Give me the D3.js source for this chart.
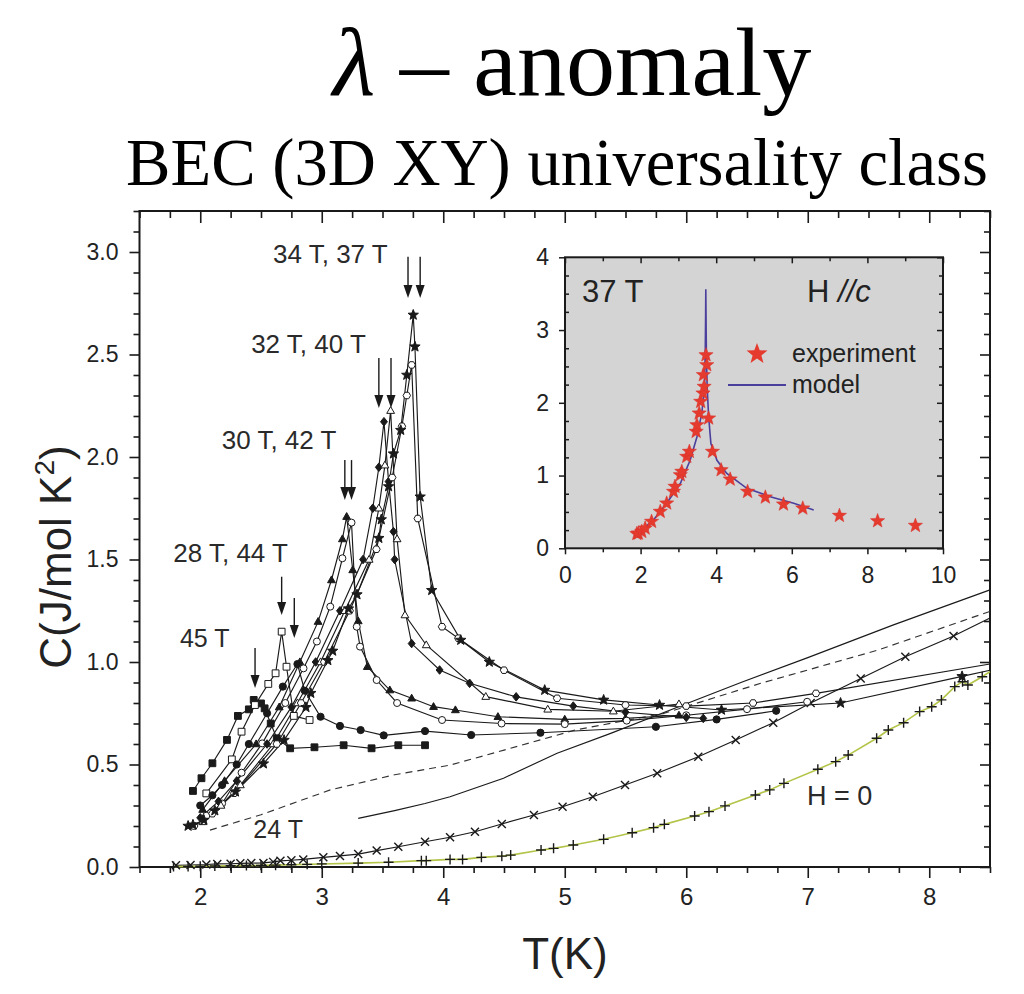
<!DOCTYPE html>
<html><head><meta charset="utf-8">
<script src="https://cdn.jsdelivr.net/npm/d3@7"></script>
<style>body{margin:0;background:#fff}svg{display:block}</style>
</head><body>
<svg id="c" width="1024" height="994"></svg>
<script>
// ---------------- DATA (T in K, C in J/mol K^2) ----------------
const h45 = [[1.94,0.371],[2.01,0.433],[2.10,0.506],[2.22,0.62],[2.31,0.737],[2.40,0.769],[2.44,0.815],[2.50,0.798],[2.53,0.774],[2.58,0.70],[2.63,0.628],[2.74,0.579],[2.94,0.584],[3.18,0.594],[3.41,0.579],[3.63,0.594],[3.85,0.594]];
const h44 = [[2.05,0.359],[2.26,0.525],[2.34,0.66],[2.45,0.79],[2.56,0.893],[2.62,0.945],[2.67,1.148],[2.71,0.977],[2.77,0.737],[2.90,0.717]];
const h28 = [[2.00,0.30],[2.10,0.35],[2.18,0.40],[2.30,0.50],[2.40,0.60],[2.55,0.75],[2.68,0.88],[2.80,0.99],[2.86,0.86],[2.99,0.733],[3.15,0.688],[3.32,0.668],[3.51,0.642],[3.85,0.663],[4.23,0.644],[4.80,0.655],[5.75,0.684],[6.25,0.72],[6.74,0.762]];
const h30 = [[2.02,0.28],[2.20,0.42],[2.46,0.60],[2.65,0.78],[2.82,1.00],[2.97,1.197],[3.08,1.40],[3.17,1.60],[3.205,1.709],[3.255,1.449],[3.30,1.20],[3.375,0.977],[3.56,0.863],[3.74,0.823],[3.92,0.782],[4.10,0.766],[4.45,0.733],[5.0,0.72],[5.5,0.725],[5.94,0.74]];
const h42 = [[2.05,0.25],[2.18,0.31],[2.34,0.46],[2.51,0.603],[2.70,0.80],[2.85,0.969],[2.96,1.10],[3.07,1.27],[3.17,1.506],[3.245,1.68],[3.288,1.172],[3.315,1.075],[3.452,0.912],[3.62,0.80],[3.99,0.717],[4.48,0.70],[5.0,0.697],[5.51,0.714],[6.0,0.74],[6.5,0.77],[6.995,0.806]];
const h32 = [[2.00,0.24],[2.15,0.32],[2.30,0.42],[2.55,0.60],[2.75,0.78],[2.95,1.00],[3.15,1.25],[3.34,1.50],[3.42,1.75],[3.47,1.95],[3.512,2.172],[3.55,1.88],[3.59,1.636],[3.60,1.50],[3.74,1.09],[3.97,0.961],[4.217,0.896],[4.6,0.83],[5.07,0.785],[5.5,0.755],[6.0,0.73],[6.14,0.725]];
const h40 = [[2.02,0.22],[2.17,0.30],[2.33,0.40],[2.60,0.60],[2.80,0.80],[2.99,1.00],[3.19,1.25],[3.39,1.50],[3.47,1.75],[3.52,1.96],[3.567,2.226],[3.62,1.60],[3.685,1.229],[3.86,1.083],[4.35,0.831],[4.86,0.769],[5.4,0.76],[5.94,0.795]];
const h34 = [[1.95,0.20],[2.10,0.26],[2.28,0.36],[2.63,0.60],[2.83,0.80],[3.02,1.00],[3.23,1.25],[3.45,1.55],[3.58,1.90],[3.66,2.15],[3.70,2.30],[3.74,2.449],[3.79,1.70],[3.99,1.172],[4.124,1.116],[4.50,0.96],[4.937,0.823],[5.5,0.79],[6.0,0.785],[6.55,0.80],[7.068,0.847]];
const h34Tail = [8.5,0.99];
const h37 = [[1.90,0.20],[1.94,0.206],[2.03,0.229],[2.12,0.275],[2.29,0.367],[2.52,0.504],[2.69,0.619],[2.87,0.779],[2.91,0.848],[3.05,1.008],[3.09,1.054],[3.22,1.26],[3.29,1.329],[3.47,1.604],[3.49,1.695],[3.55,1.856],[3.59,2.016],[3.65,2.131],[3.70,2.40],[3.753,2.693],[3.767,2.538],[3.81,1.806],[3.905,1.35],[4.144,1.107],[4.379,1.0],[4.835,0.863],[5.32,0.815],[5.78,0.79],[6.29,0.766],[7.27,0.80],[8.27,0.93]];
const h37Tail = [8.5,0.96];
const h24 = [[2.08,0.18],[2.5,0.255],[3.07,0.376],[3.6,0.45],[4.056,0.497],[4.5,0.57],[5.084,0.668],[5.82,0.75],[6.613,0.896],[7.583,1.059],[8.5,1.247]];
const hLine = [[3.30,0.237],[3.6,0.275],[3.85,0.31],[4.056,0.343],[4.496,0.433],[4.937,0.555],[5.378,0.652],[5.937,0.782],[6.45,0.90],[6.995,1.02],[7.7,1.18],[8.5,1.352]];
const hX = [[1.80,0.008],[1.92,0.01],[2.05,0.012],[2.14,0.015],[2.25,0.016],[2.33,0.018],[2.42,0.019],[2.52,0.02],[2.60,0.025],[2.66,0.03],[2.75,0.033],[2.848,0.037],[3.013,0.047],[3.15,0.054],[3.30,0.063],[3.452,0.08],[3.63,0.099],[3.85,0.123],[4.056,0.145],[4.261,0.172],[4.482,0.21],[4.746,0.254],[4.982,0.294],[5.231,0.343],[5.496,0.40],[5.761,0.457],[6.099,0.538],[6.407,0.62],[6.716,0.704],[7.024,0.80],[7.436,0.92],[7.803,1.026],[8.2,1.127]];
const hXTail = [8.5,1.215];
const h0 = [[1.78,0.002],[1.90,0.003],[2.0,0.004],[2.12,0.005],[2.25,0.006],[2.38,0.007],[2.50,0.008],[2.62,0.009],[2.75,0.011],[2.88,0.013],[3.0,0.015],[3.30,0.019],[3.55,0.023],[3.82,0.031],[3.86,0.031],[4.056,0.037],[4.159,0.037],[4.314,0.047],[4.482,0.053],[4.555,0.058],[4.805,0.083],[4.908,0.091],[5.07,0.107],[5.32,0.135],[5.555,0.167],[5.731,0.192],[5.82,0.208],[6.069,0.249],[6.187,0.27],[6.319,0.298],[6.569,0.351],[6.687,0.376],[6.804,0.408],[7.083,0.477],[7.23,0.514],[7.333,0.546],[7.567,0.628],[7.663,0.668],[7.789,0.704],[7.921,0.758],[8.02,0.782],[8.10,0.815],[8.21,0.88],[8.274,0.904],[8.318,0.888],[8.436,0.928]];
const h0Tail = [8.5,0.953];

// arrows marking the transitions
const arrowT   = [3.71, 3.81, 3.47, 3.57, 3.19, 3.245, 2.67, 2.774, 2.451];
const arrowTop = [2.977,2.977,2.483,2.483,1.985,1.985,1.416,1.312,1.068];
const arrowTip = [2.776,2.776,2.239,2.239,1.79, 1.79, 1.229,1.117,0.873];

// annotation texts
const fieldLabels = ["34 T, 37 T","32 T, 40 T","30 T, 42 T","28 T, 44 T","45 T","24 T","H = 0"];

// axis ticks
const xMajor = [2,3,4,5,6,7,8];
const xTickLabels = ["2","3","4","5","6","7","8"];
const yMajor = [0,0.5,1,1.5,2,2.5,3];
const yTickLabels = ["0.0","0.5","1.0","1.5","2.0","2.5","3.0"];

// inset: 37 T, H // c
const insetStarT = [1.90,1.94,2.03,2.12,2.29,2.52,2.69,2.87,2.91,3.05,3.09,3.22,3.29,3.47,3.49,3.55,3.59,3.65,3.68,3.66,3.75,3.73,3.80,3.90,4.13,4.37,4.83,5.30,5.78,6.29,7.26,8.27,9.27];
const insetStarC = [0.20,0.206,0.229,0.275,0.367,0.504,0.619,0.779,0.848,1.008,1.054,1.26,1.329,1.604,1.695,1.856,2.016,2.131,2.222,2.383,2.52,2.657,1.787,1.329,1.077,0.948,0.779,0.701,0.605,0.55,0.449,0.376,0.312];
const modelT = [1.97,2.1,2.34,2.69,3.05,3.31,3.49,3.62,3.69,3.71,3.72,3.725,3.74,3.76,3.80,3.86,4.02,4.28,4.81,5.43,6.05,6.58];
const modelC = [0.22,0.28,0.39,0.62,0.89,1.21,1.53,1.86,2.22,2.7,3.2,3.56,2.7,2.22,1.81,1.44,1.21,1.03,0.825,0.71,0.62,0.527];
const insetXTicks = [0,2,4,6,8,10];
const insetYTicks = [0,1,2,3,4];

// ---------------- DRAWING ----------------
const svg = d3.select('#c');
const SANS = '"Liberation Sans", Arial, Helvetica, sans-serif';
const SERIF = '"Liberation Serif", "Times New Roman", serif';
const INK = '#1a1a1a';

const x = d3.scaleLinear().domain([1.5, 8.5]).range([139.5, 990]);
const y = d3.scaleLinear().domain([0, 3.2]).range([867, 211]);

// titles
function fitText(t, target, base){
  const w = t.node().getBBox().width;
  t.style('font-size', (base * target / w).toFixed(2) + 'px');
}
const t1 = svg.append('text').attr('x', 572).attr('y', 95).attr('text-anchor','middle')
  .style('font-family', SERIF).style('font-size','88px').attr('fill','#000');
t1.append('tspan').style('font-style','italic').text('λ');
t1.append('tspan').text(' – anomaly');
fitText(t1, 482, 88);
const t2 = svg.append('text').attr('x', 557).attr('y', 185).attr('text-anchor','middle')
  .style('font-family', SERIF).style('font-size','66px').attr('fill','#000')
  .text('BEC (3D XY) universality class');
fitText(t2, 862, 66);

// axes
function styleAxis(g, fs){
  g.select('.domain').remove();
  g.attr('font-family', null).attr('font-size', null);
  g.selectAll('line').attr('stroke', INK).attr('stroke-width', 1.6);
  g.selectAll('text').attr('fill', '#222').style('font-family', SANS).style('font-size', fs + 'px');
}
const xMinor = d3.range(1.5, 8.501, 0.25).filter(v => !xMajor.includes(v));
const yMinor = d3.range(0, 3.2001, 0.1).map(v => +v.toFixed(2)).filter(v => !yMajor.includes(v));

const gxb1 = svg.append('g').attr('transform', `translate(0,${y(0)})`)
  .call(d3.axisBottom(x).tickValues(xMinor).tickSize(6).tickFormat(''));
styleAxis(gxb1, 24);
const gxb2 = svg.append('g').attr('transform', `translate(0,${y(0)})`)
  .call(d3.axisBottom(x).tickValues(xMajor).tickSize(11).tickPadding(10)
    .tickFormat((d,i) => xTickLabels[i]));
styleAxis(gxb2, 24);
const gxt1 = svg.append('g').attr('transform', `translate(0,${y(3.2)})`)
  .call(d3.axisTop(x).tickValues(xMinor).tickSize(-7).tickFormat(''));
styleAxis(gxt1, 24);
const gxt2 = svg.append('g').attr('transform', `translate(0,${y(3.2)})`)
  .call(d3.axisTop(x).tickValues(xMajor).tickSize(-12).tickFormat(''));
styleAxis(gxt2, 24);
const gyl1 = svg.append('g').attr('transform', `translate(${x(1.5)},0)`)
  .call(d3.axisLeft(y).tickValues(yMinor).tickSize(6).tickFormat(''));
styleAxis(gyl1, 24);
const gyl2 = svg.append('g').attr('transform', `translate(${x(1.5)},0)`)
  .call(d3.axisLeft(y).tickValues(yMajor).tickSize(10).tickPadding(11)
    .tickFormat((d,i) => yTickLabels[i]));
styleAxis(gyl2, 23);
const gyr1 = svg.append('g').attr('transform', `translate(${x(8.5)},0)`)
  .call(d3.axisRight(y).tickValues(yMinor).tickSize(-6).tickFormat(''));
styleAxis(gyr1, 24);
const gyr2 = svg.append('g').attr('transform', `translate(${x(8.5)},0)`)
  .call(d3.axisRight(y).tickValues(yMajor).tickSize(-10).tickFormat(''));
styleAxis(gyr2, 24);

svg.append('rect').attr('x', x(1.5)).attr('y', y(3.2))
  .attr('width', x(8.5) - x(1.5)).attr('height', y(0) - y(3.2))
  .attr('fill','none').attr('stroke', INK).attr('stroke-width', 2);

// axis titles
svg.append('text').attr('x', 565).attr('y', 969).attr('text-anchor','middle')
  .style('font-family', SANS).style('font-size','44px').attr('fill','#222').text('T(K)');
const yl = svg.append('text').attr('transform','translate(71,557) rotate(-90)')
  .attr('text-anchor','middle').style('font-family', SANS).style('font-size','44px').attr('fill','#222');
yl.append('tspan').text('C(J/mol K');
yl.append('tspan').attr('dy', -17).style('font-size','28px').text('2');
yl.append('tspan').attr('dy', 17).text(')');

// marker shapes
function starPath(R){
  const r = R * 0.42; let p = '';
  for (let i = 0; i < 10; i++){
    const a = -Math.PI/2 + i * Math.PI/5, rr = i % 2 ? r : R;
    p += (i ? 'L' : 'M') + (rr*Math.cos(a)).toFixed(2) + ',' + (rr*Math.sin(a)).toFixed(2);
  }
  return p + 'Z';
}
function markerPath(type, r){
  switch(type){
    case 'square': return `M${-r},${-r}h${2*r}v${2*r}h${-2*r}Z`;
    case 'circle': return `M${r},0A${r},${r} 0 1,1 ${-r},0A${r},${r} 0 1,1 ${r},0Z`;
    case 'triangle': return `M0,${-r*1.2}L${r*1.15},${r*0.8}L${-r*1.15},${r*0.8}Z`;
    case 'diamond': return `M0,${-r*1.3}L${r*1.05},0L0,${r*1.3}L${-r*1.05},0Z`;
    case 'hexagon': {
      let p=''; for(let i=0;i<6;i++){const a=i*Math.PI/3; p+=(i?'L':'M')+(r*1.1*Math.cos(a)).toFixed(2)+','+(r*1.1*Math.sin(a)).toFixed(2);} return p+'Z';
    }
    case 'star': return starPath(r*1.6);
    case 'plus': return `M${-r},0H${r}M0,${-r}V${r}`;
    case 'x': return `M${-r},${-r}L${r},${r}M${-r},${r}L${r},${-r}`;
  }
}

const bgSeries = [
  {data: h24, dash: '7,5', color: '#333'},
  {data: hLine, color: INK},
  {data: hX, tail: hXTail, marker: 'x', color: INK, r: 4},
  {data: h0, tail: h0Tail, marker: 'plus', color: '#b4c448', r: 5},
];
const peakSeries = [
  {data: h45, marker: 'square', fill: INK, r: 3.4},
  {data: h44, marker: 'square', fill: '#fff', r: 3.4},
  {data: h28, marker: 'circle', fill: INK, r: 3.6},
  {data: h30, marker: 'triangle', fill: INK, r: 3.4},
  {data: h42, marker: 'circle', fill: '#fff', r: 3.5},
  {data: h32, marker: 'diamond', fill: INK, r: 3.3},
  {data: h40, marker: 'triangle', fill: '#fff', r: 3.4},
  {data: h34, tail: h34Tail, marker: 'hexagon', fill: '#fff', r: 3.4},
  {data: h37, tail: h37Tail, marker: 'star', fill: INK, r: 3.4},
];
const line = d3.line().x(d => x(d[0])).y(d => y(d[1]));

const gLines = svg.append('g');
const gMarks = svg.append('g');
bgSeries.concat(peakSeries).forEach(s => {
  const pts = s.tail ? s.data.concat([s.tail]) : s.data;
  gLines.append('path').attr('d', line(pts)).attr('fill','none')
    .attr('stroke', s.color || INK).attr('stroke-width', s.color === '#b4c448' ? 1.6 : 1.15)
    .attr('stroke-dasharray', s.dash || null);
});
bgSeries.concat(peakSeries).forEach(s => {
  if (!s.marker) return;
  const stroked = (s.marker === 'plus' || s.marker === 'x');
  gMarks.selectAll(null).data(s.data).enter().append('path')
    .attr('transform', d => `translate(${x(d[0])},${y(d[1])})`)
    .attr('d', markerPath(s.marker, s.r))
    .attr('fill', stroked ? 'none' : s.fill)
    .attr('stroke', INK).attr('stroke-width', stroked ? 1.4 : 1);
});

// arrows
const gArr = svg.append('g');
arrowT.forEach((t, i) => {
  const xa = x(t), y0 = y(arrowTop[i]), y1 = y(arrowTip[i]);
  gArr.append('line').attr('x1', xa).attr('x2', xa).attr('y1', y0).attr('y2', y1 - 8)
    .attr('stroke', INK).attr('stroke-width', 1.4);
  gArr.append('path').attr('d', `M${xa-4.5},${y1-13}L${xa+4.5},${y1-13}L${xa},${y1}Z`).attr('fill', INK);
});

// field labels (positions in data units)
const labelPos = [[2.599,2.946],[2.419,2.506],[2.177,2.037],[1.778,1.486],[1.833,1.072],[2.437,0.14],[6.994,0.302]];
const labelSize = [26,26,26,26,25,25,27];
fieldLabels.forEach((s, i) => {
  svg.append('text').attr('x', x(labelPos[i][0])).attr('y', y(labelPos[i][1]))
    .style('font-family', SANS).style('font-size', labelSize[i] + 'px').attr('fill', '#2a2a2a').text(s);
});

// ---------------- INSET ----------------
const ix = d3.scaleLinear().domain([0, 10]).range([565, 943]);
const iy = d3.scaleLinear().domain([0, 4]).range([548.3, 257.3]);
svg.append('rect').attr('x', ix(0)).attr('y', iy(4)).attr('width', ix(10) - ix(0)).attr('height', iy(0) - iy(4))
  .attr('fill', '#d4d4d4');
const ixMinor = d3.range(1, 10, 2);
const iyMinor = d3.range(0, 4.001, 0.25).filter(v => !insetYTicks.includes(v));
function inAxis(gen, tf, fs){ const g = svg.append('g').attr('transform', tf).call(gen); styleAxis(g, fs); g.selectAll('line').attr('stroke-width', 1.5); return g; }
inAxis(d3.axisBottom(ix).tickValues(insetXTicks).tickSize(6).tickPadding(12).tickFormat(d3.format('d')), `translate(0,${iy(0)})`, 23);
inAxis(d3.axisBottom(ix).tickValues(ixMinor).tickSize(4).tickFormat(''), `translate(0,${iy(0)})`, 23);
inAxis(d3.axisTop(ix).tickValues(insetXTicks).tickSize(-6).tickFormat(''), `translate(0,${iy(4)})`, 23);
inAxis(d3.axisTop(ix).tickValues(ixMinor).tickSize(-4).tickFormat(''), `translate(0,${iy(4)})`, 23);
inAxis(d3.axisLeft(iy).tickValues(insetYTicks).tickSize(6).tickPadding(10).tickFormat(d3.format('d')), `translate(${ix(0)},0)`, 23);
inAxis(d3.axisLeft(iy).tickValues(iyMinor).tickSize(-4).tickFormat(''), `translate(${ix(0)},0)`, 23);
inAxis(d3.axisRight(iy).tickValues(insetYTicks).tickSize(-6).tickFormat(''), `translate(${ix(10)},0)`, 23);
inAxis(d3.axisRight(iy).tickValues(iyMinor).tickSize(-4).tickFormat(''), `translate(${ix(10)},0)`, 23);
svg.append('rect').attr('x', ix(0)).attr('y', iy(4)).attr('width', ix(10) - ix(0)).attr('height', iy(0) - iy(4))
  .attr('fill', 'none').attr('stroke', INK).attr('stroke-width', 2);

const MODEL = '#4b3f9e', RED = '#e53a2e';
svg.append('path').attr('d', d3.line().x((d,i) => ix(modelT[i])).y((d,i) => iy(modelC[i]))(modelT))
  .attr('fill','none').attr('stroke', MODEL).attr('stroke-width', 1.6);
svg.append('g').selectAll('path').data(insetStarT).enter().append('path')
  .attr('transform', (d,i) => `translate(${ix(d)},${iy(insetStarC[i])})`)
  .attr('d', starPath(7.5)).attr('fill', RED).attr('stroke', '#d8302a').attr('stroke-width', 0.5);

svg.append('text').attr('x', 582).attr('y', 302).style('font-family', SANS).style('font-size','31px').attr('fill','#222').text('37 T');
const hc = svg.append('text').attr('x', 807).attr('y', 302).style('font-family', SANS).style('font-size','31px').attr('fill','#222');
hc.append('tspan').text('H ');
hc.append('tspan').style('font-style','italic').text('//c');
svg.append('path').attr('transform','translate(757,354)').attr('d', starPath(11)).attr('fill', RED);
svg.append('text').attr('x', 792).attr('y', 362).style('font-family', SANS).style('font-size','25px').attr('fill','#222').text('experiment');
svg.append('line').attr('x1', 728).attr('x2', 786).attr('y1', 385).attr('y2', 385).attr('stroke', MODEL).attr('stroke-width', 1.8);
svg.append('text').attr('x', 792).attr('y', 393).style('font-family', SANS).style('font-size','25px').attr('fill','#222').text('model');
</script>
</body></html>
